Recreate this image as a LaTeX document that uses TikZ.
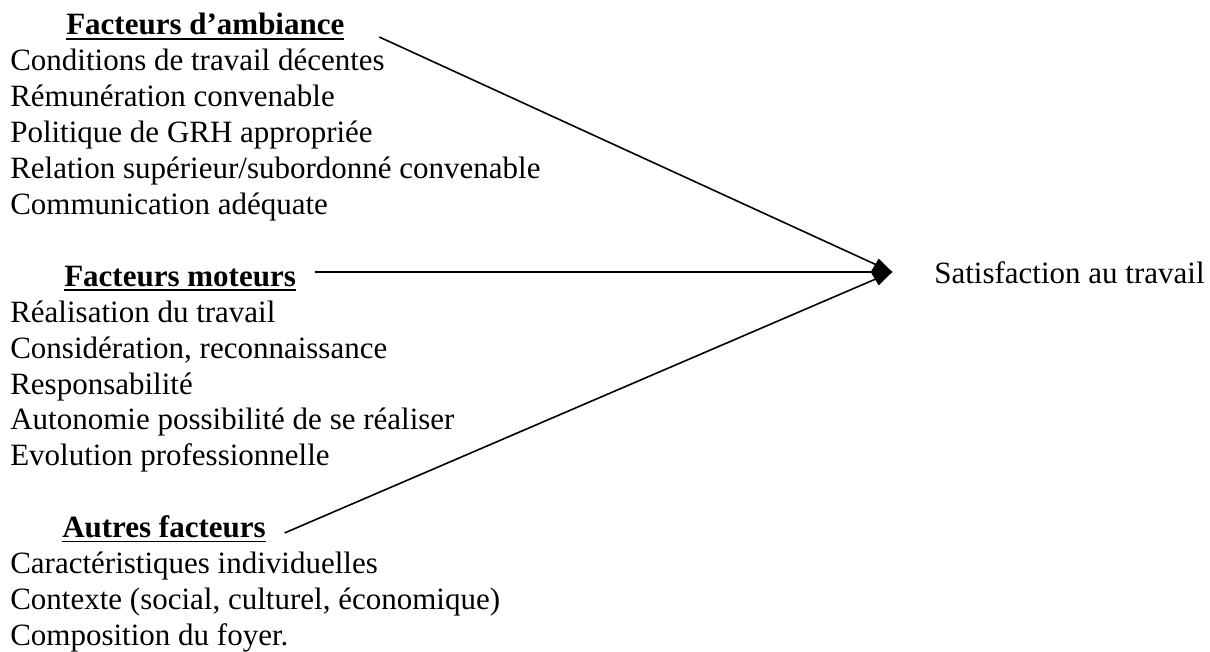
\documentclass[tikz,border=0pt]{standalone}
\usepackage{fontspec}
\setmainfont{Liberation Serif}
\usepackage{tikz}
\usetikzlibrary{arrows.meta}

\newcommand\headul[1]{\setbox0=\hbox{#1}\rlap{\rule[-3.6pt]{\wd0}{1.3pt}}\box0}

\begin{document}
\begin{tikzpicture}[x=0.75pt,y=-0.75pt,font=\fontsize{23.25}{27}\selectfont]

        \useasboundingbox (0,0) rectangle (1210,652);

        \begin{scope}[every node/.style={anchor=base west, inner sep=0pt},
                      head/.style={font=\fontsize{23.25}{27}\selectfont\bfseries}]
          % facteurs d'ambiance
          \node[head] (amb) at (66,35) {\headul{Facteurs d’ambiance}};
          \node (a1) at (10,70.9)  {Conditions de travail décentes};
          \node (a2) at (10,106.8) {Rémunération convenable};
          \node (a3) at (10,142.7) {Politique de GRH appropriée};
          \node (a4) at (10,178.6) {Relation supérieur/subordonné convenable};
          \node (a5) at (10,214.5) {Communication adéquate};
          % facteurs moteurs
          \node[head] (mot) at (64,286.3) {\headul{Facteurs moteurs}};
          \node (m1) at (10,322.2) {Réalisation du travail};
          \node (m2) at (10,358.1) {Considération, reconnaissance};
          \node (m3) at (10,394)   {Responsabilité};
          \node (m4) at (10,429.9) {Autonomie possibilité de se réaliser};
          \node (m5) at (10,465.8) {Evolution professionnelle};
          % autres facteurs
          \node[head] (aut) at (62,537.6) {\headul{Autres facteurs}};
          \node (o1) at (10,573.5) {Caractéristiques individuelles};
          \node (o2) at (10,609.4) {Contexte (social, culturel, économique)};
          \node (o3) at (10,645.3) {Composition du foyer.};
          % resultat
          \node (sat) at (934,284) {Satisfaction au travail};
        \end{scope}

        \coordinate (tip) at (892,272);

        \begin{scope}[line width=1.2pt]
          \draw ([xshift=26pt,yshift=-1.5pt]amb.base east) -- (tip);
          \draw ([xshift=14pt,yshift=3.5pt]aut.base east) -- (tip);
          \draw[-{Kite[length=16pt,width=20pt,inset=6pt]}]
            ([xshift=14pt,yshift=10.7pt]mot.base east) -- (tip);
        \end{scope}

      \end{tikzpicture}
\end{document}
